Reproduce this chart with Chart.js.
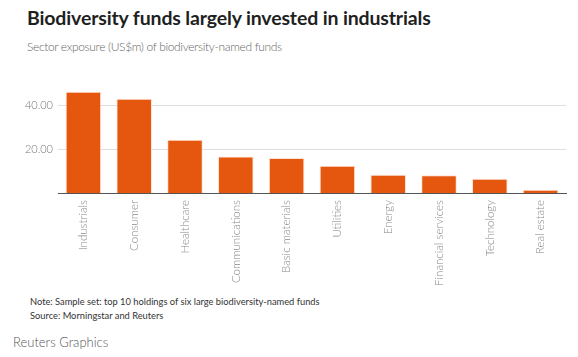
<!DOCTYPE html>
<html>
<head>
<meta charset="utf-8">
<script src="https://cdn.jsdelivr.net/npm/chart.js@4"></script>
<style>
  html, body { margin: 0; padding: 0; background: #fff; }
  body { width: 578px; height: 357px; position: relative; overflow: hidden; font-family: Lato, sans-serif; }
  #title { position: absolute; left: 27px; top: 6px; font-weight: 700; font-size: 19.5px; letter-spacing: -0.15px; color: #1f1f1f; white-space: nowrap; }
  #subtitle { position: absolute; left: 27px; top: 39px; font-size: 12px; letter-spacing: -0.35px; color: #666; white-space: nowrap; font-weight: 300; }
  #note { position: absolute; left: 30px; top: 295px; font-size: 9.3px; color: #333; line-height: 14px; white-space: nowrap; }
  #brand { position: absolute; left: 13px; top: 334px; font-size: 13px; color: #555; white-space: nowrap; font-weight: 300; }
  #wrap { position: absolute; left: 0; top: 60px; width: 578px; height: 230px; }
</style>
</head>
<body>
<div id="title">Biodiversity funds largely invested in industrials</div>
<div id="subtitle">Sector exposure (US$m) of biodiversity-named funds</div>
<div id="wrap"><canvas id="c" width="578" height="230"></canvas></div>
<div id="note">Note: Sample set: top 10 holdings of six large biodiversity-named funds<br>Source: Morningstar and Reuters</div>
<div id="brand">Reuters Graphics</div>
<script>
const categories = ["Industrials", "Consumer", "Healthcare", "Communications", "Basic materials", "Utilities", "Energy", "Financial services", "Technology", "Real estate"];
const exposure = [46.5, 43.2, 24.4, 16.7, 16.1, 12.5, 8.4, 8.1, 6.5, 1.5];
const yTickValues = [20, 40];

new Chart(document.getElementById('c'), {
  type: 'bar',
  data: {
    labels: categories,
    datasets: [{
      data: exposure,
      backgroundColor: '#e5560f',
      borderColor: 'rgba(255,220,200,0.8)',
      borderWidth: 1,
      categoryPercentage: 1,
      barPercentage: 0.7
    }]
  },
  options: {
    responsive: false,
    devicePixelRatio: 1,
    animation: false,
    layout: { padding: { top: 24, right: 12, left: 0, bottom: 0 } },
    plugins: { legend: { display: false }, tooltip: { enabled: false } },
    scales: {
      x: {
        grid: { display: false, drawTicks: false },
        border: { display: true, color: '#555', width: 1 },
        ticks: {
          minRotation: 90, maxRotation: 90, padding: 7,
          color: '#888', font: { family: 'Lato', size: 11.5, weight: 300 }
        },
        afterFit: (s) => { s.height = 97; }
      },
      y: {
        min: 0, max: 50,
        grid: { color: '#dedede', lineWidth: 1, drawTicks: false },
        border: { display: false },
        afterBuildTicks: (s) => { s.ticks = yTickValues.map(v => ({ value: v })); },
        ticks: {
          padding: 5,
          color: '#777', font: { family: 'Lato', size: 11, weight: 300 },
          callback: (v) => Number(v).toFixed(2)
        },
        afterFit: (s) => { s.width = 58; }
      }
    }
  }
});
</script>
</body>
</html>
